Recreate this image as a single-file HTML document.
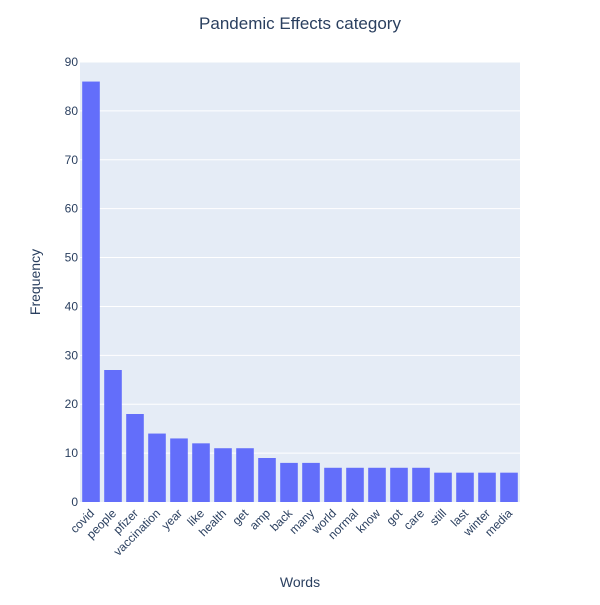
<!DOCTYPE html>
<html><head><meta charset="utf-8"><style>
body{margin:0;background:#fff}
svg text{font-family:"Liberation Sans",sans-serif;fill:#2a3f5f}
</style></head><body>
<svg id="chart" width="600" height="600">
<rect x="0" y="0" width="600" height="600" fill="#fff"/>
<rect x="80" y="62" width="440" height="440" fill="#e5ecf6"/>
<g id="grid"></g><g id="bars"></g><g id="yticks"></g><g id="xticks"></g>
<text x="300" y="29" text-anchor="middle" font-size="17">Pandemic Effects category</text>
<text x="300" y="587" text-anchor="middle" font-size="14">Words</text>
<text transform="translate(40,282) rotate(-90)" text-anchor="middle" font-size="14">Frequency</text>
</svg>
<script>
const categories=["covid","people","pfizer","vaccination","year","like","health","get","amp","back","many","world","normal","know","got","care","still","last","winter","media"];
const values=[86,27,18,14,13,12,11,11,9,8,8,7,7,7,7,7,6,6,6,6];
const yTicks=[0,10,20,30,40,50,60,70,80,90];
const NS="http://www.w3.org/2000/svg";
const x0=80,w=440,yTop=62,yBot=502,yMax=90;
const y=v=>yBot-(v/yMax)*(yBot-yTop);
const band=w/categories.length;
const xc=i=>x0+band*(i+0.5);
function mk(tag,attrs,parent,txt){const e=document.createElementNS(NS,tag);for(const k in attrs)e.setAttribute(k,attrs[k]);if(txt!==undefined)e.textContent=txt;document.getElementById(parent).appendChild(e);return e;}
yTicks.forEach(t=>{
 if(t>0){const g=mk('line',{x1:x0,x2:x0+w,y1:y(t),y2:y(t),stroke:'#fff','stroke-width':1},'grid');
 
 }
 const l=mk('text',{x:x0-2,y:y(t)+4,'text-anchor':'end','font-size':12},'yticks',String(t));
 
 
});
categories.forEach((c,i)=>{
 const bw=band*0.8;
 const b=mk('rect',{x:xc(i)-bw/2,y:y(values[i]),width:bw,height:yBot-y(values[i]),fill:'#636efa'},'bars');
 
 
 const t=mk('text',{transform:`translate(${xc(i)+4},${yBot+12}) rotate(-45)`,'text-anchor':'end','font-size':12},'xticks',c);
 
 
});
</script>
</body></html>
